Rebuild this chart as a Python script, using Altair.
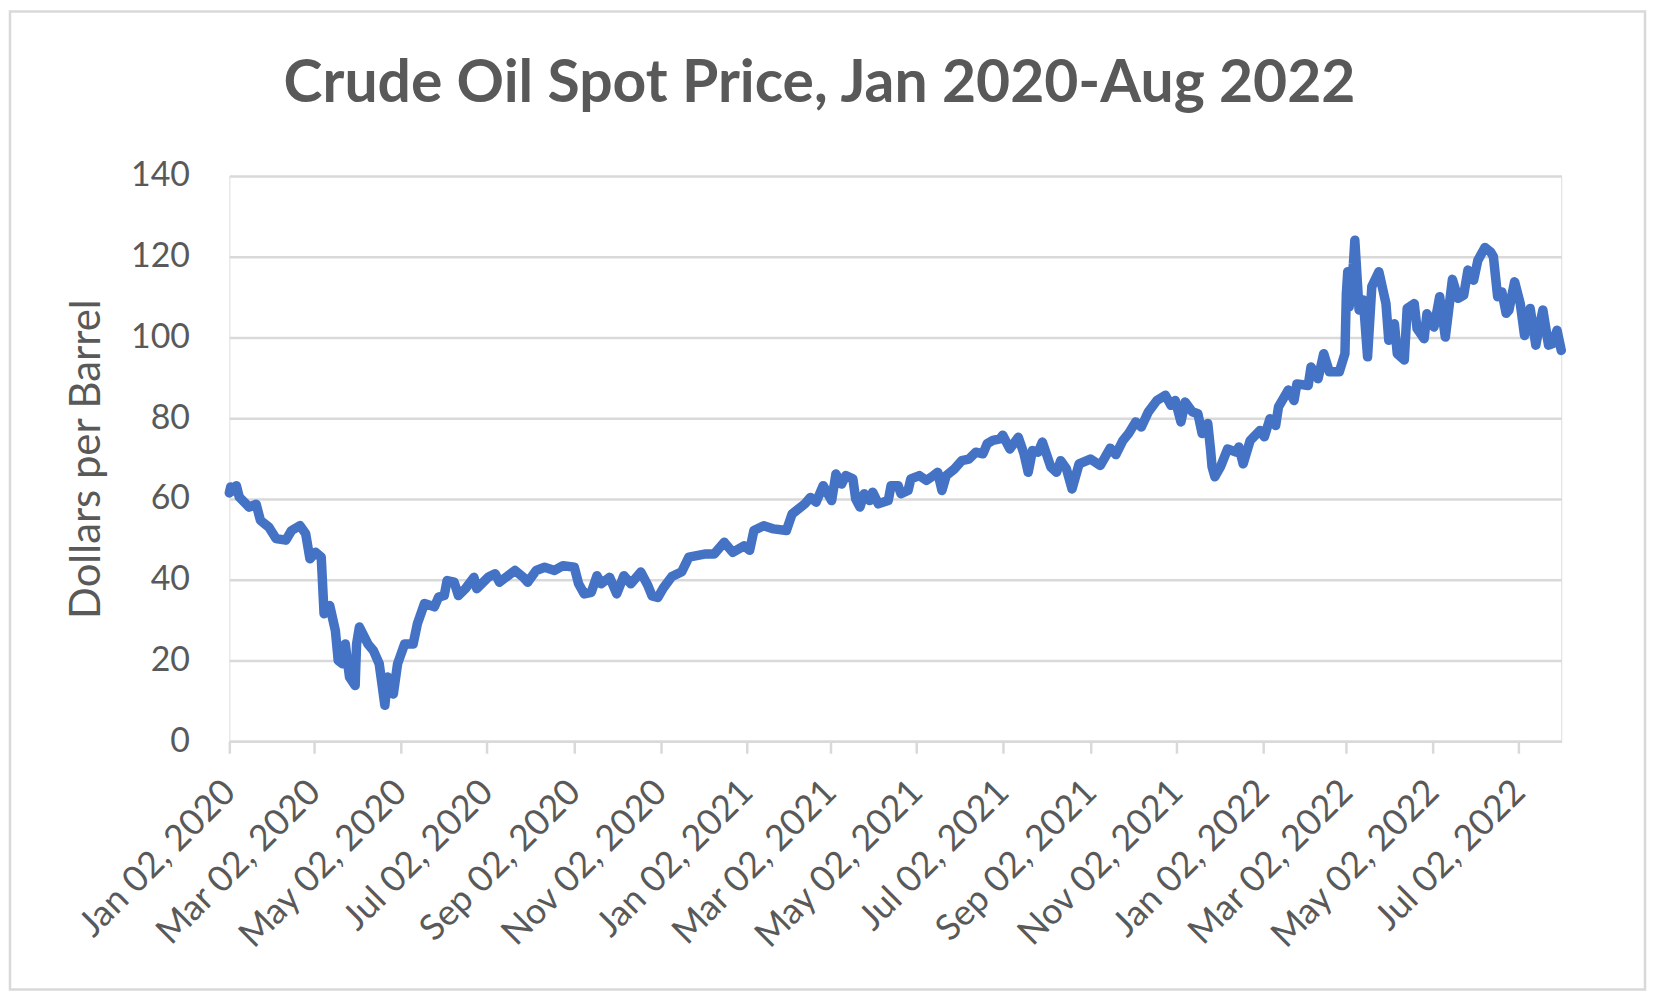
import altair as alt
import pandas as pd

# ---- data ----
dates = [
    "2020-01-02", "2020-01-03", "2020-01-05", "2020-01-07", "2020-01-09", "2020-01-16", "2020-01-21",
    "2020-01-24", "2020-01-30", "2020-02-04", "2020-02-11", "2020-02-15", "2020-02-21", "2020-02-25",
    "2020-02-28", "2020-03-03", "2020-03-07", "2020-03-09", "2020-03-13", "2020-03-17", "2020-03-19",
    "2020-03-22", "2020-03-24", "2020-03-27", "2020-03-31", "2020-04-01", "2020-04-03", "2020-04-09",
    "2020-04-13", "2020-04-17", "2020-04-21", "2020-04-23", "2020-04-27", "2020-04-30", "2020-05-05",
    "2020-05-11", "2020-05-14", "2020-05-19", "2020-05-26", "2020-05-29", "2020-06-02", "2020-06-04",
    "2020-06-09", "2020-06-12", "2020-06-17", "2020-06-23", "2020-06-25", "2020-07-03", "2020-07-08",
    "2020-07-11", "2020-07-22", "2020-07-28", "2020-07-31", "2020-08-06", "2020-08-12", "2020-08-19",
    "2020-08-25", "2020-09-02", "2020-09-05", "2020-09-09", "2020-09-14", "2020-09-18", "2020-09-21",
    "2020-09-27", "2020-10-02", "2020-10-07", "2020-10-12", "2020-10-19", "2020-10-24", "2020-10-27",
    "2020-10-31", "2020-11-04", "2020-11-10", "2020-11-17", "2020-11-22", "2020-12-04", "2020-12-10",
    "2020-12-17", "2020-12-23", "2020-12-31", "2021-01-04", "2021-01-07", "2021-01-14", "2021-01-21",
    "2021-01-30", "2021-02-03", "2021-02-12", "2021-02-16", "2021-02-20", "2021-02-25", "2021-03-03",
    "2021-03-06", "2021-03-10", "2021-03-13", "2021-03-18", "2021-03-20", "2021-03-23", "2021-03-26",
    "2021-03-30", "2021-04-01", "2021-04-05", "2021-04-12", "2021-04-14", "2021-04-19", "2021-04-21",
    "2021-04-26", "2021-04-28", "2021-05-04", "2021-05-09", "2021-05-14", "2021-05-17", "2021-05-20",
    "2021-05-23", "2021-05-29", "2021-06-03", "2021-06-08", "2021-06-13", "2021-06-18", "2021-06-21",
    "2021-06-25", "2021-06-30", "2021-07-02", "2021-07-07", "2021-07-13", "2021-07-17", "2021-07-20",
    "2021-07-23", "2021-07-27", "2021-07-30", "2021-08-05", "2021-08-09", "2021-08-12", "2021-08-16",
    "2021-08-20", "2021-08-25", "2021-09-02", "2021-09-09", "2021-09-16", "2021-09-20", "2021-09-25",
    "2021-09-29", "2021-10-04", "2021-10-08", "2021-10-13", "2021-10-19", "2021-10-25", "2021-10-29",
    "2021-11-01", "2021-11-05", "2021-11-08", "2021-11-13", "2021-11-17", "2021-11-20", "2021-11-24",
    "2021-11-26", "2021-11-27", "2021-11-29", "2021-12-03", "2021-12-08", "2021-12-14", "2021-12-16",
    "2021-12-19", "2021-12-24", "2021-12-31", "2022-01-03", "2022-01-07", "2022-01-11", "2022-01-13",
    "2022-01-20", "2022-01-24", "2022-01-26", "2022-02-03", "2022-02-05", "2022-02-10", "2022-02-14",
    "2022-02-18", "2022-02-25", "2022-03-01", "2022-03-02", "2022-03-03", "2022-03-04", "2022-03-07",
    "2022-03-08", "2022-03-11", "2022-03-14", "2022-03-17", "2022-03-20", "2022-03-25", "2022-03-30",
    "2022-04-01", "2022-04-05", "2022-04-07", "2022-04-12", "2022-04-14", "2022-04-19", "2022-04-21",
    "2022-04-26", "2022-04-28", "2022-05-03", "2022-05-07", "2022-05-11", "2022-05-16", "2022-05-20",
    "2022-05-24", "2022-05-27", "2022-05-31", "2022-06-03", "2022-06-08", "2022-06-12", "2022-06-14",
    "2022-06-17", "2022-06-20", "2022-06-23", "2022-06-25", "2022-06-29", "2022-07-03", "2022-07-06",
    "2022-07-10", "2022-07-14", "2022-07-16", "2022-07-19", "2022-07-23", "2022-07-26", "2022-07-29",
    "2022-08-01",
]
prices = [
    61.5, 63.0, 62.0, 63.3, 60.5, 58.0, 58.7,
    54.7, 53.0, 50.2, 49.8, 52.2, 53.4, 51.4,
    45.2, 46.8, 45.6, 31.6, 33.6, 27.4, 20.0,
    19.2, 24.1, 15.9, 13.8, 24.1, 28.3, 24.1,
    22.4, 19.2, 8.9, 15.9, 11.7, 19.2, 24.1,
    24.1, 29.1, 34.1, 33.3, 35.7, 36.1, 39.8,
    39.4, 36.1, 37.8, 40.6, 37.8, 40.6, 41.5,
    39.4, 42.3, 40.6, 39.4, 42.3, 43.1, 42.3,
    43.5, 43.1, 39.0, 36.5, 36.9, 41.0, 39.0,
    40.6, 36.5, 41.0, 39.0, 41.9, 38.6, 36.0,
    35.6, 38.0, 40.8, 42.0, 45.6, 46.4, 46.4,
    49.3, 46.8, 48.4, 47.3, 52.2, 53.4, 52.6,
    52.2, 56.3, 58.8, 60.4, 59.2, 63.3, 59.6,
    66.2, 63.7, 65.8, 65.0, 60.0, 58.0, 61.3,
    59.6, 61.7, 58.8, 59.6, 63.3, 63.3, 61.3,
    62.1, 65.0, 65.8, 64.6, 65.8, 66.6, 62.1,
    65.8, 67.5, 69.5, 69.9, 71.6, 71.2, 73.7,
    74.5, 74.9, 75.8, 72.4, 75.3, 71.2, 66.6,
    72.0, 71.6, 74.1, 67.9, 66.6, 69.5, 67.5,
    62.5, 68.7, 69.9, 68.3, 72.6, 71.0, 74.5,
    76.2, 79.1, 77.8, 81.6, 84.4, 85.7, 83.2,
    84.4, 79.1, 84.0, 81.6, 81.1, 76.2, 78.7,
    72.1, 68.0, 65.5, 68.0, 72.4, 71.6, 72.9,
    68.7, 74.5, 77.0, 75.4, 79.9, 78.2, 82.8,
    87.0, 84.4, 88.5, 88.1, 92.7, 89.8, 96.0,
    91.5, 91.5, 96.0, 110.9, 116.3, 107.6, 118.3,
    124.1, 106.8, 109.3, 95.2, 112.6, 116.3, 108.4,
    99.3, 103.4, 96.0, 94.4, 107.2, 108.4, 102.2,
    99.7, 105.9, 102.6, 110.1, 100.1, 114.4, 109.7,
    110.5, 116.7, 114.2, 119.1, 122.3, 121.2, 120.0,
    110.1, 111.3, 106.0, 106.8, 113.8, 108.4, 100.5,
    107.2, 98.1, 101.8, 106.8, 98.1, 98.5, 101.8,
    96.8,
]

chart_title = "Crude Oil Spot Price, Jan 2020-Aug 2022"
y_title = "Dollars per Barrel"
y_ticks = [0, 20, 40, 60, 80, 100, 120, 140]
x_tick_dates = [
    "2020-01-02", "2020-03-02", "2020-05-02", "2020-07-02", "2020-09-02", "2020-11-02",
    "2021-01-02", "2021-03-02", "2021-05-02", "2021-07-02", "2021-09-02", "2021-11-02",
    "2022-01-02", "2022-03-02", "2022-05-02", "2022-07-02",
]
x_domain = ["2020-01-02", "2022-08-01"]

FONT = "Lato"
TEXT = "#595959"
GRID = "#D9D9D9"
LINE = "#4472C4"


def dt(s):
    y, m, d = (int(p) for p in s.split("-"))
    return alt.DateTime(year=y, month=m, date=d, utc=True)


df = pd.DataFrame({"date": dates, "price": prices})

line = alt.Chart(df).mark_line(
    color=LINE, strokeWidth=9.5, strokeJoin="round", strokeCap="round"
).encode(
    x=alt.X(
        "date:T",
        scale=alt.Scale(type="utc", domain=[dt(s) for s in x_domain]),
        axis=alt.Axis(
            values=[dt(s) for s in x_tick_dates],
            format="%b %d, %Y",
            title=None,
            grid=False,
            labelAngle=-45,
            labelAlign="right",
            labelBaseline="middle",
            labelPadding=33,
            labelFont=FONT,
            labelFontSize=36,
            labelColor=TEXT,
            labelOverlap=False,
            labelFlush=False,
            labelLimit=500,
            ticks=True,
            tickSize=12,
            tickColor=GRID,
            tickWidth=2.5,
            domainColor=GRID,
            domainWidth=2.5,
        ),
    ),
    y=alt.Y(
        "price:Q",
        scale=alt.Scale(domain=[0, 140], nice=False),
        axis=alt.Axis(
            values=y_ticks,
            title=y_title,
            titleFont=FONT,
            titleFontSize=42,
            titleFontWeight="normal",
            titleColor=TEXT,
            titleAngle=270,
            titleAlign="center",
            titleBaseline="middle",
            titleX=-143,
            titleY=283.5,
            domain=False,
            ticks=False,
            grid=True,
            gridColor=GRID,
            gridWidth=2.5,
            labelFont=FONT,
            labelFontSize=34,
            labelColor=TEXT,
            labelPadding=40,
            labelFlush=False,
        ),
    ),
)

border = alt.Chart(pd.DataFrame({"k": [0]})).mark_rect(
    filled=False, stroke=GRID, strokeWidth=2.5
).encode(
    x=alt.value(-220), x2=alt.value(1420), y=alt.value(-165), y2=alt.value(816)
)

title = alt.Chart(pd.DataFrame({"t": [chart_title]})).mark_text(
    font=FONT, fontSize=59, fontWeight="bold", color=TEXT,
    align="center", baseline="alphabetic",
).encode(
    text="t:N", x=alt.value(592), y=alt.value(-74)
)

chart = alt.layer(border, title, line).properties(
    width=1336,
    height=567,
    padding={"left": 222, "top": 167, "right": 90, "bottom": 250},
    autosize=alt.AutoSizeParams(type="none"),
).configure_view(strokeWidth=0).configure(background="white")

chart.save("out.html", embed_options={"renderer": "svg", "actions": False})
